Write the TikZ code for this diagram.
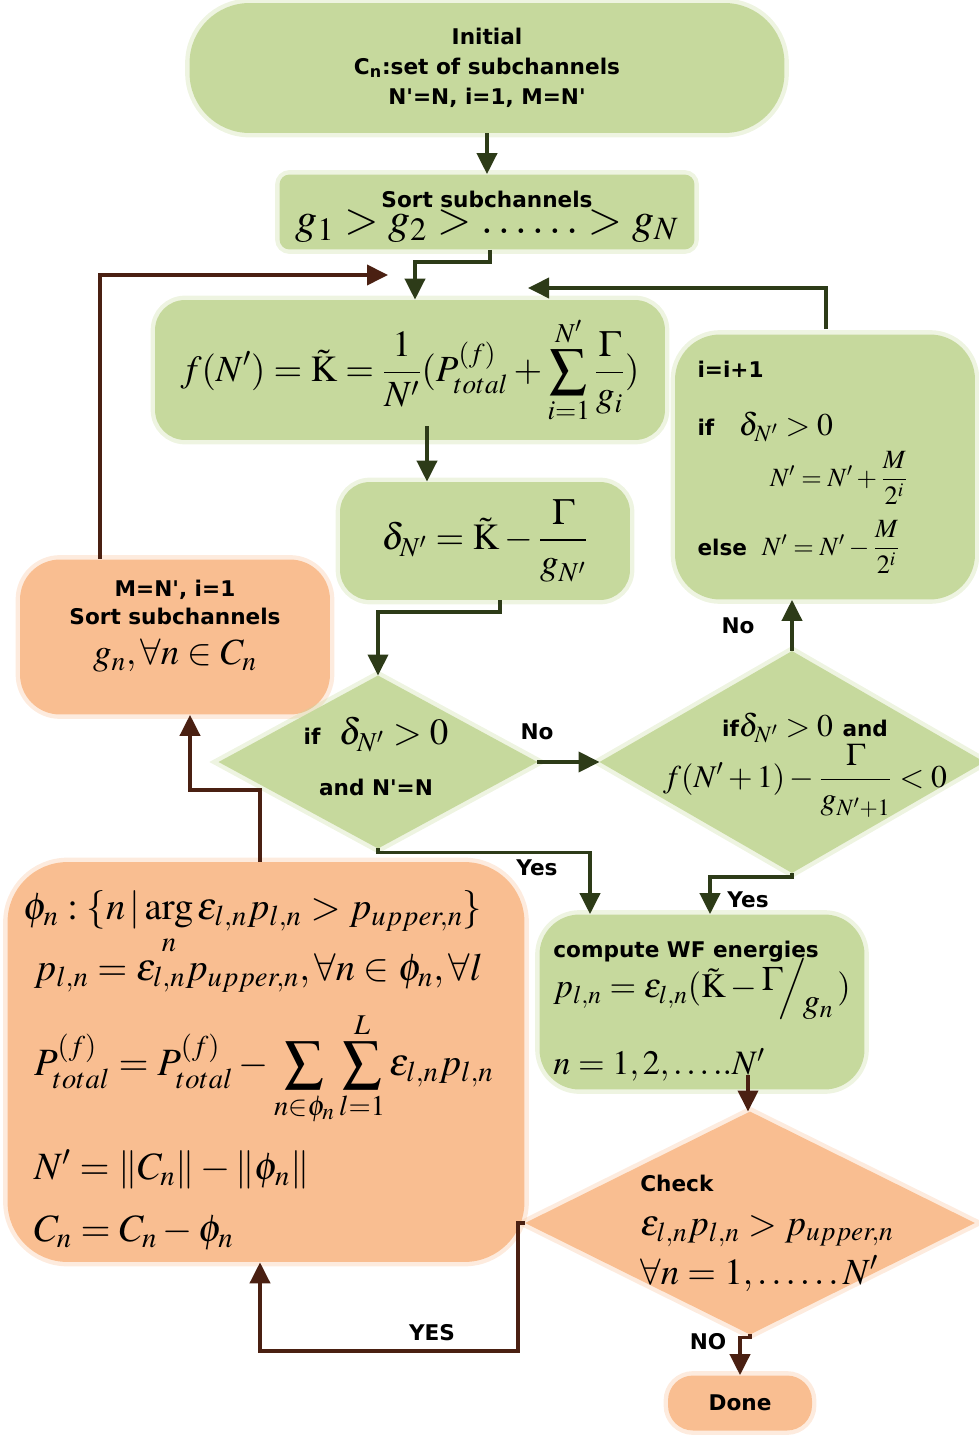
\documentclass[tikz,border=0pt]{standalone}
\usepackage{amsmath}
\usepackage{mathptmx}
\usepackage[no-math]{fontspec}
\newfontfamily\lblfont{DejaVu Sans}
\usepackage{tikz}
\usetikzlibrary{arrows.meta,positioning,shapes.geometric,calc}
\definecolor{flowgreen}{HTML}{C6D99D}
\definecolor{floworange}{HTML}{F9BE91}
\definecolor{arrowgreen}{HTML}{2D3B18}
\definecolor{arrowbrown}{HTML}{4A2012}
\newcommand\lbl{\lblfont\bfseries\fontsize{12.3}{17}\selectfont}
\newcommand\eqhuge{\fontsize{25}{28}\selectfont}
\newcommand\eqbig{\fontsize{21}{25}\selectfont}
\newcommand\eqmid{\fontsize{18}{21}\selectfont}
\newcommand\eqsmall{\fontsize{15}{18}\selectfont}
\newcommand\sq{\textquotesingle}
\newcommand\Kt{\tilde{\mathrm{K}}}
\tikzset{
  greenbox/.style={rounded corners=#1, fill=flowgreen, preaction={draw=flowgreen, draw opacity=0.3, line width=5pt}, align=center, inner sep=2pt},
  greenbox/.default=0.6cm,
  orangebox/.style={rounded corners=#1, fill=floworange, preaction={draw=floworange, draw opacity=0.3, line width=5pt}, align=center, inner sep=2pt},
  orangebox/.default=0.8cm,
  decision/.style={diamond, inner sep=0pt, outer sep=0pt, preaction={draw=#1, draw opacity=0.3, line width=5pt}, fill=#1},
  flowlbl/.style={font=\lbl, inner sep=1pt},
  flow/.style={-{Triangle[length=0.42cm,width=0.4cm]}, line width=2.2pt, draw=arrowgreen},
  backflow/.style={-{Triangle[length=0.42cm,width=0.4cm]}, line width=2.2pt, draw=arrowbrown}
}
\begin{document}
\begin{tikzpicture}[x=0.02cm, y=-0.02cm]
  \useasboundingbox (0,0) rectangle (979,1435);
  \node[greenbox=1.2cm, minimum width=11.9cm, minimum height=2.6cm, font=\lbl] (init) at (487,68) {Initial\\C\textsubscript{n}:set of subchannels\\N\sq=N, i=1, M=N\sq};
  \node[greenbox=0.2cm, minimum width=8.3cm, minimum height=1.5cm, font=\eqhuge, text depth=0pt] (sort) at (487,212) {{\lbl Sort subchannels}\\[-13pt]$g_1>g_2>\ldots\ldots>g_N$};
  \node[greenbox, minimum width=10.2cm, minimum height=2.8cm, font=\eqbig] (fbox) at (410,370) {$\displaystyle f(N')=\Kt=\frac{1}{N'}(P^{(f)}_{total}+\sum_{i=1}^{N'}\frac{\Gamma}{g_i})$};
  \node[greenbox, minimum width=5.8cm, minimum height=2.36cm, font=\eqbig] (delta) at (485,541) {$\displaystyle \delta_{N'}=\Kt-\frac{\Gamma}{g_{N'}}$};
  \node[greenbox=0.9cm, minimum width=6cm, minimum height=5.3cm, align=left, text width=5.1cm, inner xsep=0.45cm, font=\eqbig] (ibox) at (825,467) {{\lbl i=i+1}\\[8pt]{\lbl if}\enspace\,{\eqmid$\delta_{N'}>0$}\\[4pt]\hspace*{1.45cm}{\eqsmall$N'=N'+\dfrac{M}{2^i}$}\\[8pt]{\lbl else}\hspace*{0.3cm}{\eqsmall$N'=N'-\dfrac{M}{2^i}$}};
  \node[orangebox, minimum width=6.2cm, minimum height=3.1cm, font=\eqbig, text depth=17pt] (mbox) at (175,637) {{\lbl M=N\sq, i=1}\\[-9pt]{\lbl Sort subchannels}\\[-2pt]$g_n,\forall n\in C_n$};
  \node[decision=flowgreen, minimum width=6.38cm, minimum height=3.46cm] (dec1) at (378,762) {};
  \node[align=center, font=\eqbig] (dec1txt) at (376,756) {{\lbl if}\enspace$\delta_{N'}>0$\\[4pt]{\lbl and N\sq=N}};
  \node[decision=flowgreen, minimum width=7.7cm, minimum height=4.44cm] (dec2) at (792,762) {};
  \node[align=center, font=\eqmid] (dec2txt) at (805,765) {{\lbl if}$\delta_{N'}>0$\ {\lbl and}\\$f(N'+1)-\dfrac{\Gamma}{g_{N'+1}}<0$};
  \node[greenbox=0.8cm, minimum width=6.5cm, minimum height=3.5cm, align=left, font=\fontsize{19.5}{25}\selectfont, text depth=0pt] (wf) at (702,1002) {\rule{0pt}{16pt}{\lbl compute WF energies}\\[-3pt]$p_{l,n}=\varepsilon_{l,n}(\Kt-\raisebox{.5ex}{$\Gamma$}\!\Big/\!\raisebox{-1ex}{$g_n$}\,)$\\[15pt]$n=1,2,\ldots..N'$};
  \node[decision=floworange, minimum width=9cm, minimum height=4.46cm] (check) at (750,1223) {};
  \node[align=left, font=\eqbig] (checktxt) at (767,1233) {{\lbl Check}\\[0pt]$\varepsilon_{l,n}p_{l,n}>p_{upper,n}$\\[3pt]$\forall n=1,\ldots\ldots N'$};
  \node[orangebox=0.5cm, minimum width=2.88cm, minimum height=1.1cm, font=\lbl] (done) at (740,1403) {Done};
  \node[orangebox=1.2cm, minimum width=10.34cm, minimum height=8cm, align=left, text width=9.7cm, inner xsep=0.3cm, font=\fontsize{22}{25}\selectfont] (bigbox) at (266,1062) {\rule{0pt}{26pt}$\phi_n:\{n\,|\mathop{\mathrm{arg}}\limits_{n}\varepsilon_{l,n}p_{l,n}>p_{upper,n}\}$\\[-2pt]\hspace*{6pt}$p_{l,n}=\varepsilon_{l,n}p_{upper,n},\forall n\in\phi_n,\forall l$\\[10pt]\hspace*{6pt}$P^{(f)}_{total}=P^{(f)}_{total}-\displaystyle\sum_{n\in\phi_n}\sum_{l=1}^{L}\varepsilon_{l,n}p_{l,n}$\\[13pt]\hspace*{6pt}$N'=\|C_n\|-\|\phi_n\|$\\[10pt]\hspace*{6pt}$C_n=C_n-\phi_n$};
  \coordinate (loopin) at (388,275);
  \coordinate (iterin) at (528,288);
  \node[flowlbl] (nolbl1) at (537,732) {No};
  \node[flowlbl] (nolbl2) at (738,626) {No};
  \node[flowlbl] (yeslbl1) at (537,868) {Yes};
  \node[flowlbl] (yeslbl2) at (748,900) {Yes};
  \node[flowlbl] (yeslbl3) at (432,1333) {YES};
  \node[flowlbl] (nolbl3) at (708,1342) {NO};
  \draw[flow] (init.south) -- (sort.north);
  \draw[flow] ($(sort.south)+(3,0)$) -- ++(0,12) -| ($(fbox.north)+(5,0)$);
  \draw[flow] ($(fbox.south)+(17,-14)$) -- ($(delta.north)+(-58,0)$);
  \draw[flow] ($(delta.south)+(15,0)$) -- ++(0,12) -| (dec1.north);
  \draw[flow] (dec1.east) -- (dec2.west);
  \draw[flow] (dec2.north) -- (dec2.north |- ibox.south);
  \draw[flow] ($(ibox.north)+(1,-5)$) |- (iterin);
  \draw[backflow] ($(mbox.north)+(-75,0)$) |- (loopin);
  \draw[backflow] ($(bigbox.north)+(-6,0)$) -- ++(0,-72) -| ($(mbox.south)+(15,0)$);
  \draw[flow] (dec1.south) -- ++(0,4) -| ($(wf.north)+(-112,0)$);
  \draw[flow] (dec2.south) -- ++(0,4) -| ($(wf.north)+(8,0)$);
  \draw[backflow] ($(wf.south)+(46,-15)$) -- ($(check.north)+(-2,0)$);
  \draw[backflow] (check.west) -- ++(-7,0) -- ++(0,128) -| ($(bigbox.south)+(-6,0)$);
  \draw[backflow] (check.south) -- ++(0,3) -| (done.north);
\end{tikzpicture}
\end{document}
